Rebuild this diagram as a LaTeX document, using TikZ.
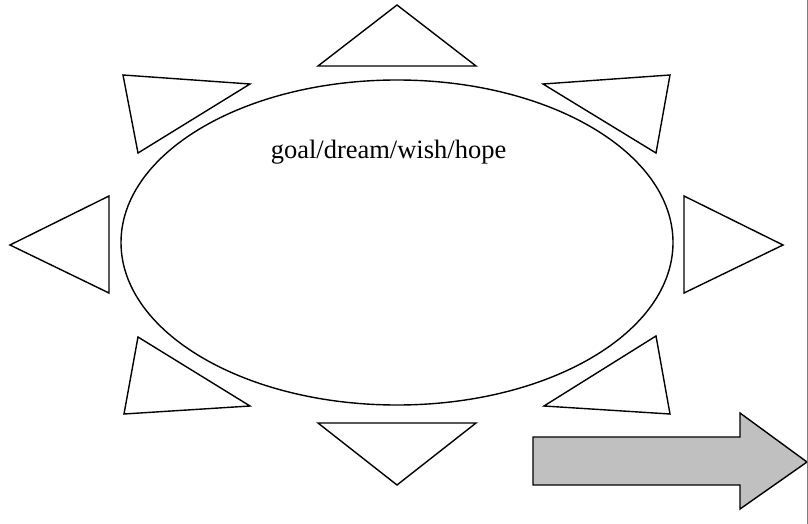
\documentclass[tikz,border=0pt]{standalone}
\usepackage{fontspec}
\setmainfont{Liberation Serif}
\usetikzlibrary{shapes.geometric}
\definecolor{arrowgray}{HTML}{C0C0C0}
\tikzset{
  every picture/.style={line width=1.4pt},
  ray/.style={draw,line join=miter},
  bigarrow/.style={draw,fill=arrowgray,line join=miter},
  lbl/.style={anchor=base,inner sep=0pt,font=\fontsize{26.5}{30}\selectfont},
}
\begin{document}
\begin{tikzpicture}[x=1pt,y=-1pt]
\useasboundingbox (0,0) rectangle (808,524);
\node[draw,ellipse,minimum width=552pt,minimum height=325pt,inner sep=0pt] (sun) at (397,242.5){};
\node[lbl] (goal) at (388.5,158){goal/dream/wish/hope};
% rays round the ellipse
\draw[ray] (397,5)--(476,66)--(318,66)--cycle;
\draw[ray] (318,423)--(476,423)--(397,485)--cycle;
\draw[ray] (109,196)--(109,293)--(10,245)--cycle;
\draw[ray] (684,196)--(783,245)--(684,293)--cycle;
\draw[ray] (123,75)--(250,84)--(138,153)--cycle;
\draw[ray] (543,84)--(670,75)--(656,153)--cycle;
\draw[ray] (138,337)--(250,406)--(124,414)--cycle;
\draw[ray] (544,406)--(656,336)--(670,414)--cycle;
% arrow and border
\draw[bigarrow] (533,437)--(740,437)--(740,413)--(807,462)--(740,509)--(740,485)--(533,485)--cycle;
\draw[gray,line width=1pt] (807,0)--(807,524);
\end{tikzpicture}
\end{document}
